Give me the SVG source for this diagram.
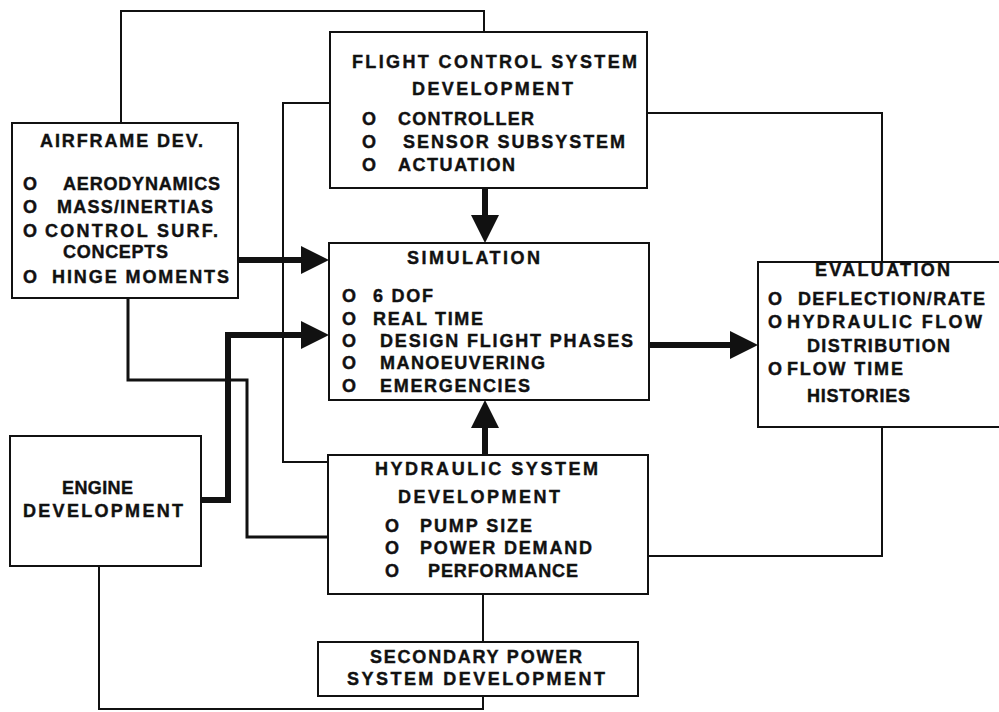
<svg xmlns="http://www.w3.org/2000/svg" width="999" height="712" viewBox="0 0 999 712">
<style>
.box{fill:#fff;stroke:#111;stroke-width:2}
.ln{fill:none;stroke:#111;stroke-width:2}
.mid{fill:none;stroke:#111;stroke-width:3}
.thk{fill:none;stroke:#111;stroke-width:6}
text{font-family:"Liberation Sans",Arial,sans-serif;font-weight:bold;font-size:18px;fill:#111;stroke:#111;stroke-width:0.4}
</style>
<defs>
<marker id="ah" markerUnits="userSpaceOnUse" markerWidth="30" markerHeight="28" viewBox="0 0 30 28" refX="8" refY="14" orient="auto">
<path d="M0,0 L28,14 L0,28 Z" fill="#111"/>
</marker>
</defs>
<rect width="999" height="712" fill="#fff"/>
<g id="connectors">
<path class="ln" d="M121,123 V11 H484 V32"/>
<path class="ln" d="M330,103 H283 V462 H328"/>
<path class="ln" d="M647,113 H882 V262"/>
<path class="ln" d="M882,427 V556 H648"/>
<path class="mid" d="M128,298 V380 H247 V537 H328"/>
<path class="ln" d="M99,566 V709 H483 V696"/>
<path class="ln" d="M483,594 V642"/>
<path class="thk" d="M485,188 V223" marker-end="url(#ah)"/>
<path class="thk" d="M238,260 H309" marker-end="url(#ah)"/>
<path class="thk" d="M201,500 H228 V335 H309" marker-end="url(#ah)"/>
<path class="thk" d="M649,345 H738" marker-end="url(#ah)"/>
<path class="thk" d="M485,455 V420" marker-end="url(#ah)"/>
</g>
<g id="airframe">
<rect class="box" x="12" y="123" width="226" height="175"/>
<text x="40" y="147" textLength="163">AIRFRAME DEV.</text>
<text x="23" y="190">O</text><text x="63" y="190" textLength="157">AERODYNAMICS</text>
<text x="23" y="213">O</text><text x="57" y="213" textLength="156">MASS/INERTIAS</text>
<text x="23" y="237">O</text><text x="45" y="237" textLength="173">CONTROL SURF.</text>
<text x="63" y="258" textLength="105">CONCEPTS</text>
<text x="23" y="283">O</text><text x="52" y="283" textLength="177">HINGE MOMENTS</text>
</g>
<g id="fcs">
<rect class="box" x="330" y="32" width="317" height="156"/>
<text x="352" y="68" textLength="285">FLIGHT CONTROL SYSTEM</text>
<text x="412" y="95" textLength="161">DEVELOPMENT</text>
<text x="362" y="125">O</text><text x="398" y="125" textLength="136">CONTROLLER</text>
<text x="362" y="148">O</text><text x="403" y="148" textLength="222">SENSOR SUBSYSTEM</text>
<text x="362" y="171">O</text><text x="398" y="171" textLength="117">ACTUATION</text>
</g>
<g id="simulation">
<rect class="box" x="329" y="243" width="320" height="157"/>
<text x="407" y="264" textLength="133">SIMULATION</text>
<text x="342" y="302">O</text><text x="373" y="302" textLength="60">6 DOF</text>
<text x="342" y="325">O</text><text x="373" y="325" textLength="110">REAL TIME</text>
<text x="342" y="347">O</text><text x="380" y="347" textLength="253">DESIGN FLIGHT PHASES</text>
<text x="342" y="369">O</text><text x="380" y="369" textLength="165">MANOEUVERING</text>
<text x="342" y="392">O</text><text x="380" y="392" textLength="150">EMERGENCIES</text>
</g>
<g id="evaluation">
<rect class="box" x="758" y="262" width="260" height="165"/>
<text x="815" y="276" textLength="135">EVALUATION</text>
<text x="768" y="305">O</text><text x="798" y="305" textLength="187">DEFLECTION/RATE</text>
<text x="768" y="328">O</text><text x="787" y="328" textLength="195">HYDRAULIC FLOW</text>
<text x="807" y="352" textLength="143">DISTRIBUTION</text>
<text x="768" y="375">O</text><text x="787" y="375" textLength="116">FLOW TIME</text>
<text x="807" y="402" textLength="103">HISTORIES</text>
</g>
<g id="engine">
<rect class="box" x="10" y="436" width="191" height="130"/>
<text x="62" y="494" textLength="71">ENGINE</text>
<text x="23" y="517" textLength="160">DEVELOPMENT</text>
</g>
<g id="hydraulic">
<rect class="box" x="328" y="455" width="320" height="139"/>
<text x="375" y="475" textLength="223">HYDRAULIC SYSTEM</text>
<text x="398" y="503" textLength="162">DEVELOPMENT</text>
<text x="385" y="532">O</text><text x="420" y="532" textLength="112">PUMP SIZE</text>
<text x="385" y="554">O</text><text x="420" y="554" textLength="172">POWER DEMAND</text>
<text x="385" y="577">O</text><text x="428" y="577" textLength="150">PERFORMANCE</text>
</g>
<g id="secondary">
<rect class="box" x="318" y="642" width="320" height="54"/>
<text x="370" y="663" textLength="212">SECONDARY POWER</text>
<text x="347" y="685" textLength="258">SYSTEM DEVELOPMENT</text>
</g>
</svg>
